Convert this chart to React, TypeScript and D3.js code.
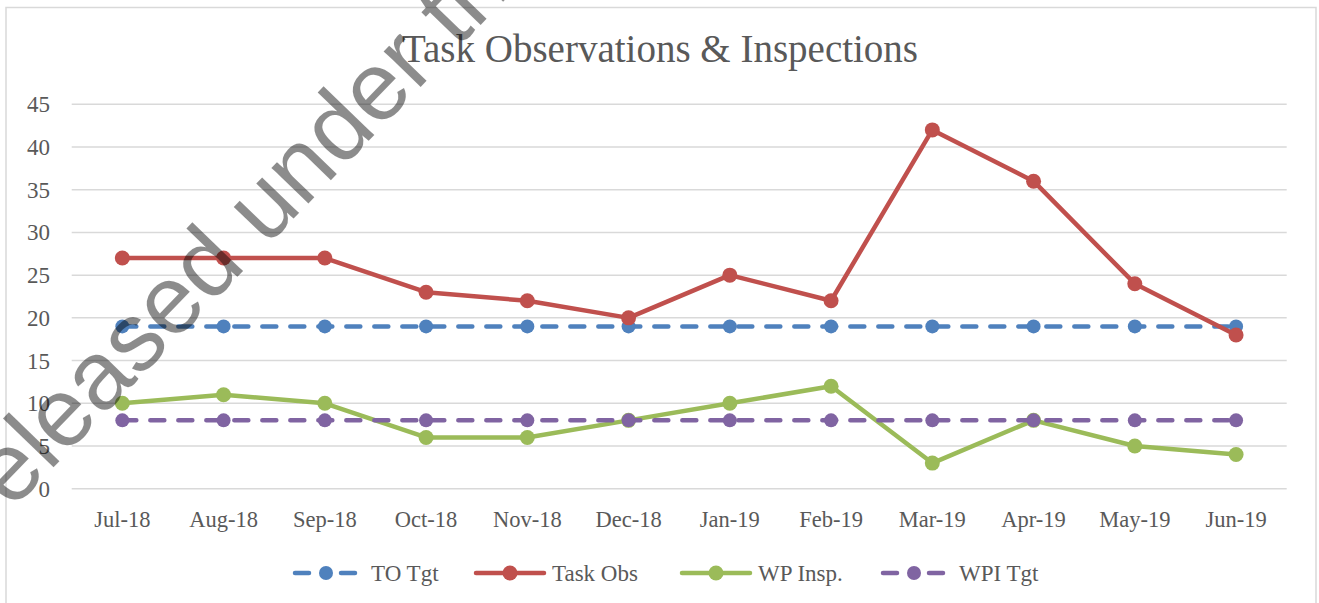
import React from 'react';
import * as d3 from 'd3';

const months = ['Jul-18', 'Aug-18', 'Sep-18', 'Oct-18', 'Nov-18', 'Dec-18', 'Jan-19', 'Feb-19', 'Mar-19', 'Apr-19', 'May-19', 'Jun-19'];
const toTgt = [19, 19, 19, 19, 19, 19, 19, 19, 19, 19, 19, 19];
const taskObs = [27, 27, 27, 23, 22, 20, 25, 22, 42, 36, 24, 18];
const wpInsp = [10, 11, 10, 6, 6, 8, 10, 12, 3, 8, 5, 4];
const wpiTgt = [8, 8, 8, 8, 8, 8, 8, 8, 8, 8, 8, 8];
const yTicks = [0, 5, 10, 15, 20, 25, 30, 35, 40, 45];

const series = [
  { name: 'TO Tgt', values: toTgt, color: '#4f81bd', dashed: true },
  { name: 'Task Obs', values: taskObs, color: '#c0504d', dashed: false },
  { name: 'WP Insp.', values: wpInsp, color: '#9bbb59', dashed: false },
  { name: 'WPI Tgt', values: wpiTgt, color: '#8064a2', dashed: true },
];

// legend start x for each entry
const legendX = [293, 474, 680, 881];

const W = 1319;
const H = 603;
const font = '"Liberation Serif", "Times New Roman", serif';
const textColor = '#595959';

export default function App() {
  const x = d3.scaleBand().domain(months).range([71.7, 1286.7]);
  const y = d3.scaleLinear().domain([0, 45]).range([488.7, 104.3]);
  const cx = (m: string) => (x(m) as number) + x.bandwidth() / 2;

  const line = d3.line<number>()
    .x((_, i) => cx(months[i]))
    .y(d => y(d));

  return (
    <svg width={W} height={H} style={{ position: 'absolute', left: 0, top: 0, background: '#fff' }}>
      <rect x={0} y={0} width={W} height={H} fill="#fff" />
      <rect x={6} y={7.5} width={1310} height={H} fill="#fff" stroke="#d9d9d9" strokeWidth={1.5} />

      <text x={660} y={62} textAnchor="middle" fontFamily={font} fontSize={39} fill={textColor}>
        Task Observations &amp; Inspections
      </text>

      {/* gridlines + y labels */}
      {yTicks.map(t => (
        <g key={t}>
          <line x1={71.7} x2={1286.7} y1={y(t)} y2={y(t)} stroke="#d9d9d9" strokeWidth={1.5} />
          <text x={50} y={y(t) + 8} textAnchor="end" fontFamily={font} fontSize={23} fill={textColor}>{t}</text>
        </g>
      ))}

      {/* x labels */}
      {months.map(m => (
        <text key={m} x={cx(m)} y={527} textAnchor="middle" fontFamily={font} fontSize={22.5} fill={textColor}>{m}</text>
      ))}

      {/* series */}
      {series.map(s => (
        <g key={s.name}>
          <path
            d={line(s.values) || ''}
            fill="none"
            stroke={s.color}
            strokeWidth={4.5}
            strokeLinecap="round"
            strokeLinejoin="round"
            strokeDasharray={s.dashed ? '14 14' : undefined}
          />
          {s.values.map((v, i) => (
            <circle key={i} cx={cx(months[i])} cy={y(v)} r={s.dashed ? 7 : 7.5} fill={s.color} />
          ))}
        </g>
      ))}

      {/* legend */}
      {series.map((s, i) => {
        const lx = legendX[i];
        const ly = 573;
        return (
          <g key={s.name}>
            {s.dashed ? (
              <>
                <line x1={lx + 2} x2={lx + 16} y1={ly} y2={ly} stroke={s.color} strokeWidth={4.5} strokeLinecap="round" />
                <line x1={lx + 48} x2={lx + 62} y1={ly} y2={ly} stroke={s.color} strokeWidth={4.5} strokeLinecap="round" />
              </>
            ) : (
              <line x1={lx + 2} x2={lx + 70} y1={ly} y2={ly} stroke={s.color} strokeWidth={4.5} strokeLinecap="round" />
            )}
            <circle cx={lx + (s.dashed ? 33 : 36)} cy={ly} r={s.dashed ? 7 : 7.5} fill={s.color} />
            <text x={lx + 78} y={ly + 8} fontFamily={font} fontSize={23} fill={textColor}>{s.name}</text>
          </g>
        );
      })}

      {/* watermark */}
      <text
        transform="translate(-11,534) rotate(-46)"
        fontFamily='"Liberation Sans", Arial, sans-serif'
        fontSize={97}
        fill="#000"
        fillOpacity={0.45}
      >
        released under th
      </text>
    </svg>
  );
}
